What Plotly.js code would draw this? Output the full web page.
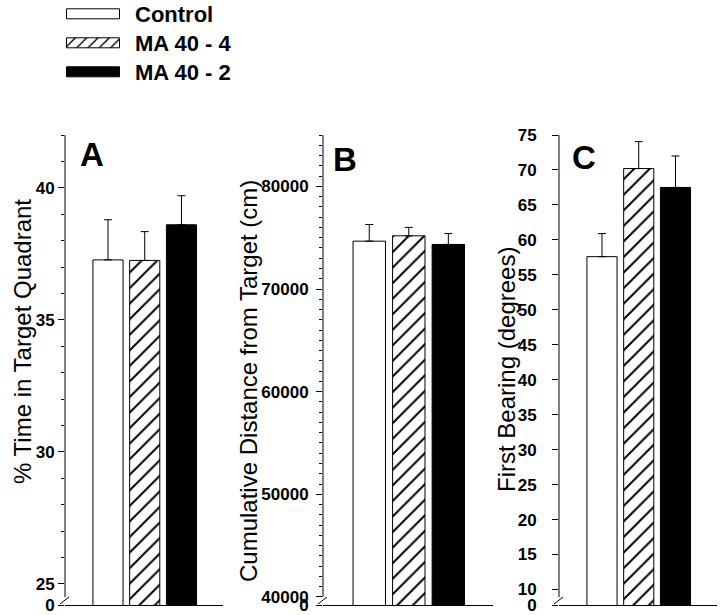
<!DOCTYPE html>
<html><head><meta charset="utf-8">
<script src="https://cdn.plot.ly/plotly-3.0.1.min.js"></script>
<style>html,body{margin:0;padding:0;background:#fff}</style>
</head><body><div id="chart" style="width:720px;height:615px"></div>
<script>
// ---- data ----
const groups = ['Control', 'MA 40 - 4', 'MA 40 - 2'];
const timeMean = [37.27, 37.25, 38.6];
const timeSem = [1.52, 1.09, 1.1];
const distMean = [74660, 75180, 74340];
const distSem = [1620, 820, 1060];
const bearMean = [57.6, 70.2, 67.5];
const bearSem = [3.3, 3.85, 4.5];
const timeTicks = [25, 30, 35, 40];
const distTicks = [40000, 50000, 60000, 70000, 80000];
const bearTicks = [10, 15, 20, 25, 30, 35, 40, 45, 50, 55, 60, 65, 70, 75];
const timeRange = [24.2, 42];
const distRange = [39220, 85000];
const bearRange = [7.78, 75];
const panelLetters = ['A', 'B', 'C'];
const yTitles = ['% Time in Target Quadrant', 'Cumulative Distance from Target (cm)', 'First Bearing (degrees)'];

// ---- styling ----
const FONT = 'Liberation Sans, Arial, Helvetica, sans-serif';
const groupMarkers = [
  {color: '#ffffff', line: {color: '#000', width: 1}},
  {color: '#ffffff', line: {color: '#000', width: 1},
   pattern: {shape: '/', fgcolor: '#000', bgcolor: '#fff', size: 11, solidity: 0.18}},
  {color: '#000000', line: {color: '#000', width: 1}}
];
const panels = [
  {mean: timeMean, sem: timeSem, ticks: timeTicks, range: timeRange, minor: 1, standoff: 0,
   dom: [65, 223], letter: [92, 155], title: [22, 342]},
  {mean: distMean, sem: distSem, ticks: distTicks, range: distRange, minor: 1000, standoff: 4,
   dom: [323, 493], letter: [345, 159], title: [248, 381]},
  {mean: bearMean, sem: bearSem, ticks: bearTicks, range: bearRange, minor: null, standoff: 12,
   dom: [559, 717], letter: [584, 158], title: [506, 369]}
];
const W = 720, H = 615, TOP = 135, BOT = 605;

const data = [];
const layout = {
  width: W, height: H, margin: {l: 0, r: 0, t: 0, b: 0, autoexpand: false},
  paper_bgcolor: '#fff', plot_bgcolor: '#fff',
  barmode: 'overlay', showlegend: true,
  font: {family: FONT, color: '#000'},
  legend: {x: 51 / W, y: 1, xanchor: 'left', yanchor: 'top', itemwidth: 74,
    font: {family: FONT, size: 22, weight: 'bold', color: '#000'},
    bgcolor: 'rgba(0,0,0,0)', borderwidth: 0, tracegroupgap: 0},
  annotations: [], shapes: []
};

panels.forEach((p, i) => {
  const sfx = i === 0 ? '' : String(i + 1);
  groups.forEach((g, k) => {
    data.push({
      type: 'bar', name: g, x: [g], y: [p.mean[k]], width: [0.82],
      xaxis: 'x' + sfx, yaxis: 'y' + sfx, showlegend: i === 0, legendgroup: g,
      marker: groupMarkers[k], hoverinfo: 'skip',
      error_y: {type: 'data', symmetric: false, array: [p.sem[k]], arrayminus: [0],
        color: '#000', thickness: 1, width: 4}
    });
  });
  const yd = [1 - BOT / H, 1 - TOP / H];
  layout['xaxis' + sfx] = {
    domain: [p.dom[0] / W, p.dom[1] / W], anchor: 'y' + sfx,
    type: 'category', categoryarray: groups, range: [-1.17, 3.13],
    showline: true, linecolor: '#000', linewidth: 1, ticks: '', showticklabels: false,
    showgrid: false, zeroline: false, fixedrange: true
  };
  const yax = {
    domain: yd, anchor: 'x' + sfx, range: p.range,
    tickmode: 'array', tickvals: [p.range[0]].concat(p.ticks),
    ticktext: ['0'].concat(p.ticks.map(String)).map(t => '<b>' + t + '</b>'),
    ticks: 'outside', ticklen: 6, tickwidth: 1, tickcolor: '#000',
    ticklabelstandoff: p.standoff,
    tickfont: {family: FONT, size: 17, weight: 700, color: '#000'},
    showline: false, showgrid: false, zeroline: false, fixedrange: true
  };
  if (p.minor) {
    yax.minor = {tickmode: 'linear', tick0: 0, dtick: p.minor, ticks: 'outside', ticklen: 3,
      tickcolor: '#000', tickwidth: 1, showgrid: false};
  }
  layout['yaxis' + sfx] = yax;
  // y axis line with break
  layout.shapes.push({type: 'line', xref: 'x' + sfx + ' domain', yref: 'y' + sfx + ' domain',
    x0: 0, x1: 0, y0: 8 / (BOT - TOP), y1: 1, line: {color: '#000', width: 1}});
  layout.shapes.push({type: 'line', xref: 'x' + sfx + ' domain', yref: 'y' + sfx + ' domain',
    xsizemode: 'pixel', ysizemode: 'pixel', xanchor: 0, yanchor: 0,
    x0: -5, x1: 4, y0: 1, y1: 8, line: {color: '#000', width: 1}});
  // panel letter
  layout.annotations.push({text: panelLetters[i], xref: 'paper', yref: 'paper',
    x: p.letter[0] / W, y: 1 - p.letter[1] / H, xanchor: 'center', yanchor: 'middle',
    showarrow: false, font: {family: FONT, size: 33, weight: 'bold', color: '#000'}});
  // y title
  layout.annotations.push({text: yTitles[i], xref: 'paper', yref: 'paper', textangle: -90,
    x: p.title[0] / W, y: 1 - p.title[1] / H, xanchor: 'center', yanchor: 'middle',
    showarrow: false, font: {family: FONT, size: 24, color: '#000'}});
});

Plotly.newPlot('chart', data, layout, {staticPlot: true, responsive: false}).then(gd => {
  gd.querySelectorAll('.legend .legendpoints path').forEach(el => {
    el.setAttribute('d', 'M26.5,5H-26.5V-5H26.5Z');
  });
  const items = gd.querySelectorAll('.legend .traces');
  let y0 = null;
  items.forEach((el, i) => {
    const m = /translate\(\s*([-\d.]+)[ ,]+([-\d.]+)\s*\)/.exec(el.getAttribute('transform') || '');
    if (!m) return;
    const tx = parseFloat(m[1]), ty = parseFloat(m[2]);
    if (y0 === null) y0 = ty - 7;
    el.setAttribute('transform', 'translate(' + tx + ',' + (y0 + i * 29) + ')');
  });
});
</script>
</body></html>
